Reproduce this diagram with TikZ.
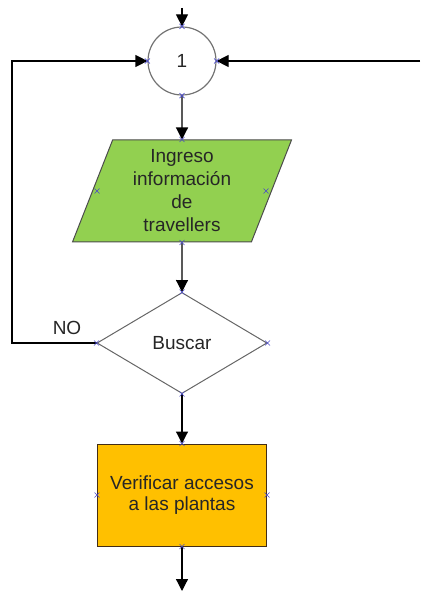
\documentclass[tikz,border=0pt]{standalone}
\usepackage{fontspec}
\setmainfont{Liberation Sans}
\usetikzlibrary{shapes.geometric,arrows.meta,calc}
\definecolor{parfill}{HTML}{92D050}
\definecolor{boxfill}{HTML}{FFC000}
\definecolor{cptblue}{HTML}{4a4ac8}

\begin{document}
\begin{tikzpicture}[x=1pt, y=-1pt,
	flow/.style={draw=black, line width=1.2pt, -{Triangle[length=12pt,width=12pt]}},
	txt/.style={font=\fontsize{19}{23}\selectfont, text=black!85, align=center, inner sep=0pt},
	cpt/.style={draw=cptblue, line width=0.6pt}]
	\useasboundingbox (0,0) rectangle (420,593);
	
	\node[txt, circle, draw=black!55, line width=1.2pt, minimum size=68pt] (con) at (182,61) {1};
	\node[txt, trapezium, trapezium left angle=64, trapezium right angle=116, trapezium stretches body,
		minimum width=219pt, minimum height=102pt, fill=parfill, draw=black!70, line width=1pt] (par) at (182,191)
		{Ingreso\\información\\de\\travellers};
	\node[txt, diamond, draw=black!60, line width=1pt, minimum width=170pt, minimum height=101pt] (dec) at (182,343) {Buscar};
	\node[txt, rectangle, fill=boxfill, draw=black!65!brown, line width=1pt, minimum width=169pt, minimum height=102pt,
		font=\fontsize{19}{21.5}\selectfont] (box) at (182,495) {Verificar accesos\\a las plantas};
	\node[txt] (no) at (67,328) {NO};
	
	\coordinate (top) at (182,8);
	\coordinate (bot) at (182,591);
	\coordinate (ret) at (420,61);
	\coordinate (loop) at (12,343);
	
	\draw[flow] (top) -- (con.north);
	\draw[flow] (con.south) -- (par.north);
	\draw[flow] (par.south) -- (dec.north);
	\draw[flow] (dec.south) -- (box.north);
	\draw[flow] (box.south) -- (bot);
	\draw[flow] (ret) -- (con.east);
	\draw[flow] (dec.west) -- (loop) |- (con.west);
	
	% connection points
	\coordinate (parL) at ($(par.center)+(-85,0)$);
	\coordinate (parR) at ($(par.center)+(84,0)$);
	\foreach \p in {con.north,con.south,con.east,con.west,par.north,par.south,parL,parR,
		dec.north,dec.south,dec.east,dec.west,box.north,box.south,box.east,box.west}
		\draw[cpt] (\p) +(-2.5,-2.5) -- +(2.5,2.5) +(-2.5,2.5) -- +(2.5,-2.5);
\end{tikzpicture}
\end{document}
